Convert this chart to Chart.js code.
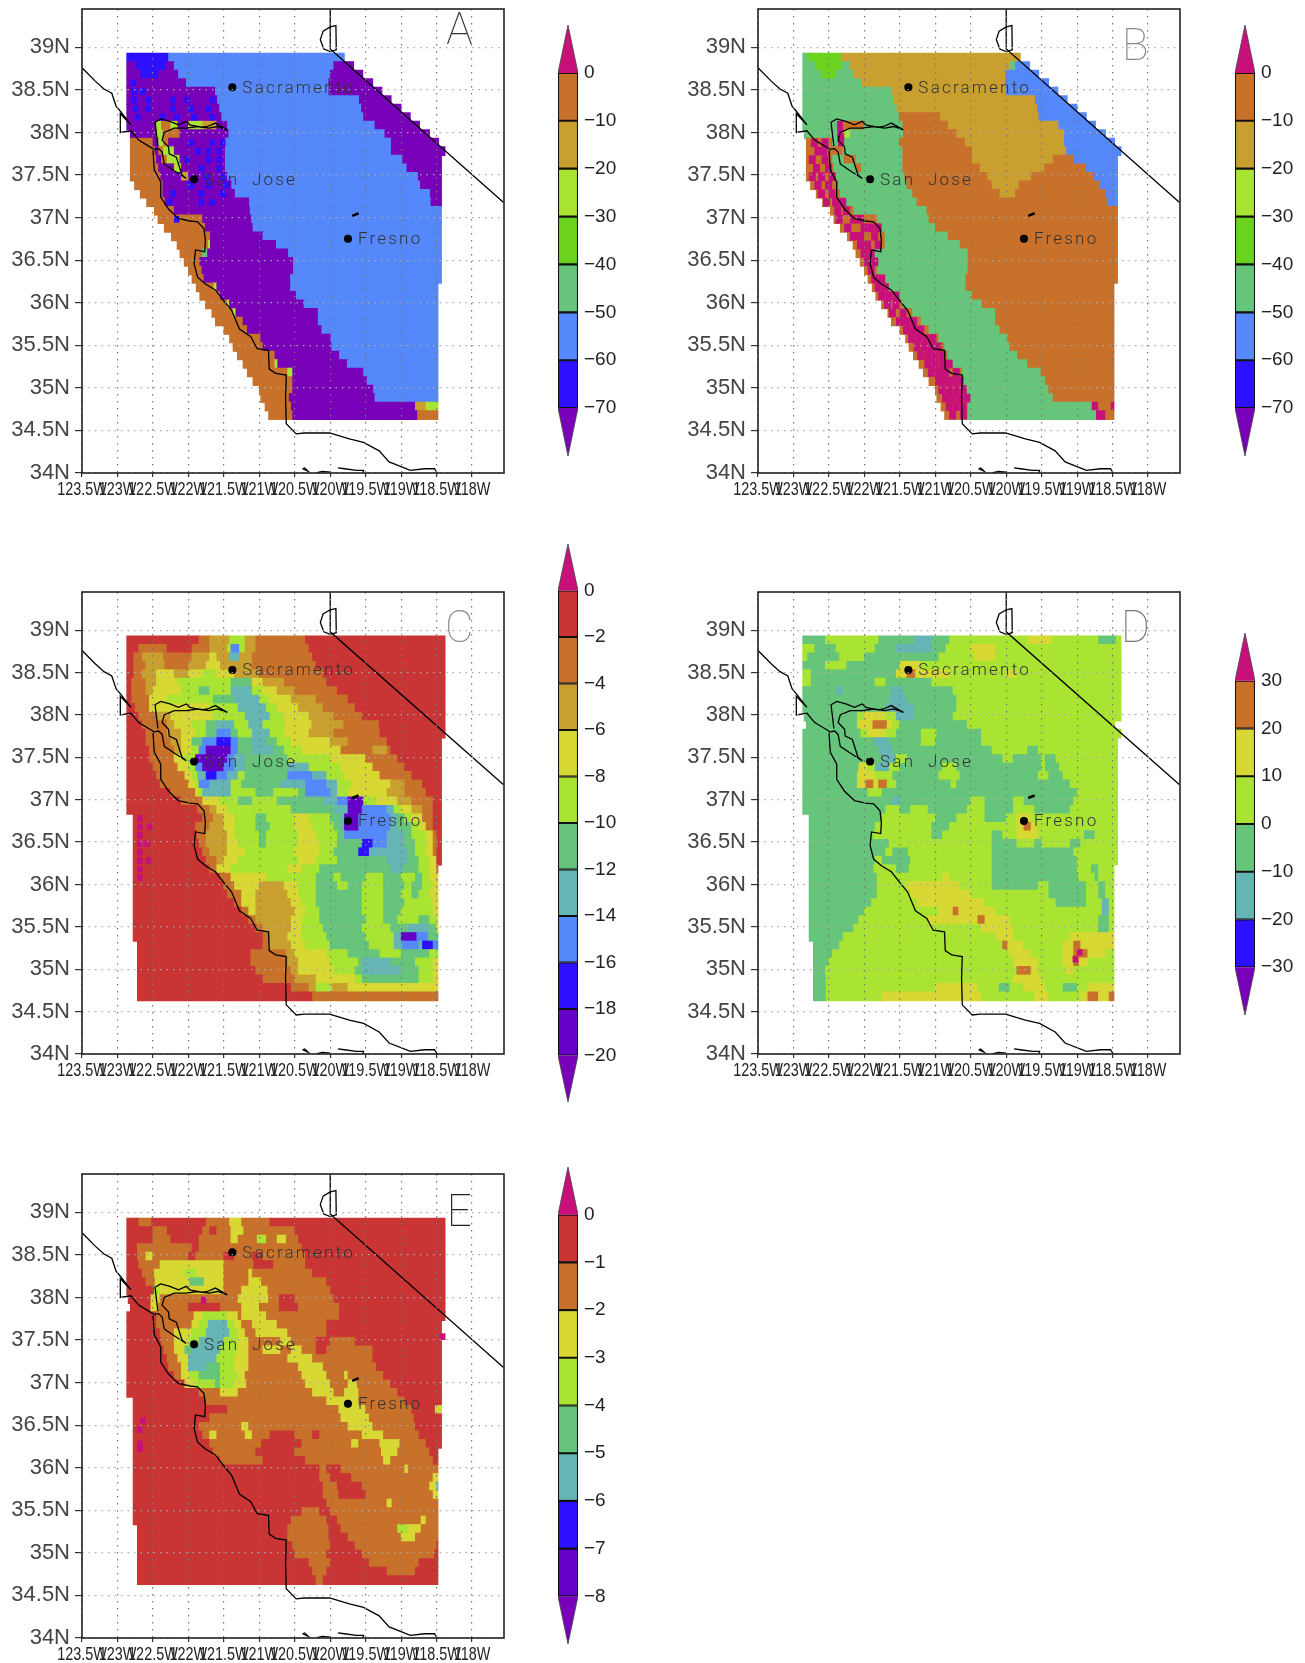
<!DOCTYPE html>
<html>
<head>
<meta charset="utf-8">
<title>Five panel map</title>
<script src="https://cdn.jsdelivr.net/npm/chart.js@4/dist/chart.umd.min.js"></script>
<style>
  html, body { margin: 0; background: #fff; }
  #page { position: relative; width: 1305px; height: 1663px; overflow: hidden; }
  canvas { position: absolute; }
</style>
</head>
<body>
<div id="page"></div>
<script>
// Axis ticks
const lonTicks = [-123.5, -123, -122.5, -122, -121.5, -121, -120.5, -120, -119.5, -119, -118.5, -118];
const lonLabels = ["123.5W", "123W", "122.5W", "122W", "121.5W", "121W", "120.5W", "120W", "119.5W", "119W", "118.5W", "118W"];
const latTicks = [34, 34.5, 35, 35.5, 36, 36.5, 37, 37.5, 38, 38.5, 39];
const latLabels = ["34N", "34.5N", "35N", "35.5N", "36N", "36.5N", "37N", "37.5N", "38N", "38.5N", "39N"];

// Colour bar levels, top to bottom
const levelsAB = [0, -10, -20, -30, -40, -50, -60, -70];
const levelsC = [0, -2, -4, -6, -8, -10, -12, -14, -16, -18, -20];
const levelsD = [30, 20, 10, 0, -10, -20, -30];
const levelsE = [0, -1, -2, -3, -4, -5, -6, -7, -8];

const paletteAB = ["#C8107A", "#C8712B", "#C9A02F", "#AAE433", "#6BD31D", "#66C57B", "#5588FB", "#2C10FF", "#7800B8"];
const paletteC = ["#C8107A", "#C93434", "#C8712B", "#C9A02F", "#D8D835", "#AAE433", "#66C57B", "#66B5B5", "#5588FB", "#2C10FF", "#6400C8", "#7800B8"];
const paletteD = ["#C8107A", "#C8712B", "#D8D835", "#AAE433", "#66C57B", "#66B5B5", "#2C10FF", "#7800B8"];
const paletteE = ["#C8107A", "#C93434", "#C8712B", "#D8D835", "#AAE433", "#66C57B", "#66B5B5", "#2C10FF", "#6400C8", "#7800B8"];

// Latitude of each row of cells
const rowLats = [38.88, 38.78, 38.68, 38.58, 38.48, 38.38, 38.28, 38.18, 38.08, 37.98, 37.88, 37.78, 37.68, 37.58, 37.48, 37.38, 37.28, 37.18, 37.08, 36.98, 36.88, 36.78, 36.68, 36.58, 36.48, 36.38, 36.28, 36.18, 36.08, 35.98, 35.88, 35.78, 35.68, 35.58, 35.48, 35.38, 35.28, 35.18, 35.08, 34.98, 34.88, 34.78, 34.68];

// One row per latitude: west edge (deg W), value, next edge, value, ... east edge
const cellsA = [
  [122.87,-65,122.28,-55,119.8],
  [122.87,-75,122.73,-65,122.31,-75,122.2,-55,119.95,-75,119.67],
  [122.87,-75,122.67,-65,122.42,-75,122.14,-55,120.0,-75,119.54],
  [122.87,-75,122.03,-55,120.02,-75,119.4],
  [122.87,-75,121.62,-55,120.02,-75,119.27],
  [122.87,-75,121.59,-55,119.59,-75,119.14],
  [122.87,-75,121.56,-55,119.56,-75,119.0],
  [122.87,-75,121.53,-55,119.53,-75,118.87],
  [122.87,-75,122.45,-25,122.38,-5,122.25,-25,122.15,-75,122.0,-25,121.8,-15,121.6,-75,121.45,-55,119.37,-75,118.74],
  [122.82,-75,122.45,-25,122.36,-5,122.12,-75,121.43,-55,119.23,-75,118.6],
  [122.82,-5,122.5,-75,122.42,-25,122.35,-5,122.28,-75,121.48,-55,119.14,-75,118.47],
  [122.82,-5,122.47,-75,122.42,-5,122.35,-25,122.2,-75,121.48,-55,119.14,-75,118.38],
  [122.82,-5,122.45,-75,122.38,-5,122.3,-25,122.12,-75,121.48,-55,118.98,-75,118.43],
  [122.82,-5,122.42,-75,122.2,-25,122.1,-75,121.48,-55,118.92,-75,118.43],
  [122.82,-5,122.39,-75,122.1,-15,122.0,-75,121.45,-55,118.76,-75,118.43],
  [122.76,-5,122.36,-75,121.39,-55,118.73,-75,118.43],
  [122.68,-5,122.36,-75,121.34,-55,118.59,-75,118.43],
  [122.59,-5,122.33,-75,121.14,-55,118.58,-75,118.43],
  [122.48,-5,122.2,-75,121.13,-55,118.43],
  [122.43,-5,121.8,-75,121.11,-55,118.43],
  [122.34,-5,121.76,-75,121.09,-55,118.43],
  [122.24,-5,121.69,-75,120.95,-55,118.43],
  [122.16,-5,121.72,-25,121.69,-75,120.76,-55,118.43],
  [122.12,-5,121.8,-45,121.73,-75,120.59,-55,118.43],
  [122.06,-5,121.84,-75,120.52,-55,118.43],
  [122.0,-5,121.81,-75,120.52,-55,118.43],
  [121.95,-5,121.78,-75,120.56,-55,118.43],
  [121.89,-5,121.64,-25,121.6,-75,120.56,-55,118.48],
  [121.84,-5,121.55,-75,120.48,-55,118.48],
  [121.76,-5,121.45,-25,121.42,-75,120.37,-55,118.48],
  [121.67,-5,121.37,-25,121.33,-75,120.17,-55,118.48],
  [121.62,-5,121.23,-75,120.17,-55,118.48],
  [121.5,-5,121.17,-75,120.12,-55,118.48],
  [121.42,-5,120.98,-75,119.99,-55,118.48],
  [121.37,-5,120.95,-75,119.98,-55,118.48],
  [121.31,-5,120.78,-75,119.87,-55,118.48],
  [121.23,-5,120.78,-25,120.74,-75,119.76,-55,118.48],
  [121.17,-5,120.6,-25,120.53,-75,119.53,-55,118.48],
  [121.09,-5,120.53,-75,119.48,-55,118.48],
  [121.0,-5,120.53,-75,119.39,-55,118.48],
  [120.98,-5,120.58,-75,119.37,-55,118.48],
  [120.92,-5,120.55,-75,118.8,-15,118.65,-25,118.48],
  [120.87,-5,120.53,-75,118.77,-5,118.48]
];

const cellsB = [
  [122.87,-45,122.79,-35,122.32,-15,119.8],
  [122.87,-45,122.68,-35,122.32,-45,122.2,-15,119.95,-45,119.87,-55,119.67],
  [122.87,-45,122.6,-35,122.4,-45,122.15,-15,120.01,-55,119.54],
  [122.87,-45,122.04,-15,120.01,-55,119.4],
  [122.87,-45,121.62,-15,120.01,-55,119.27],
  [122.87,-45,121.59,-15,119.59,-55,119.14],
  [122.87,-45,121.54,-15,119.56,-55,119.0],
  [122.87,-45,121.51,-5,120.93,-15,119.54,-55,118.87],
  [122.87,-45,122.38,5,122.3,-5,122.0,-45,121.46,-5,120.82,-15,119.26,-55,118.74],
  [122.85,-45,122.38,5,122.28,-25,122.2,-45,121.45,-5,120.7,-15,119.18,-55,118.6],
  [122.82,-5,122.45,-45,122.37,5,122.28,-45,121.51,-5,120.58,-15,119.18,-55,118.47],
  [122.82,-5,122.45,-5,122.3,-45,121.46,-5,120.48,-15,119.15,-55,118.38],
  [122.82,-5,122.45,-45,122.29,-5,122.12,-45,121.46,-5,120.48,-15,119.34,-5,119.04,-55,118.43],
  [122.82,-5,122.43,-45,122.12,-5,122.04,-45,121.46,-5,120.37,-15,119.46,-5,118.87,-55,118.43],
  [122.82,-5,122.4,-45,121.43,-5,120.26,-15,119.65,-5,118.76,-55,118.43],
  [122.76,-5,122.37,-45,121.4,-5,120.2,-15,119.82,-5,118.68,-55,118.43],
  [122.68,-5,122.34,-45,121.32,-5,120.09,-15,119.87,-5,118.59,-55,118.43],
  [122.59,-5,122.29,-45,121.26,-5,118.57,-55,118.43],
  [122.48,-5,122.15,-45,121.12,-5,118.43],
  [122.43,-5,121.82,-45,121.09,-5,118.43],
  [122.34,-5,121.79,-45,121.0,-5,118.43],
  [122.24,-5,121.71,-45,120.82,-5,118.43],
  [122.16,-5,121.71,-45,120.65,-5,118.43],
  [122.12,-5,121.87,-45,120.54,-5,118.43],
  [122.06,-5,121.84,-45,120.54,-5,118.43],
  [122.0,-5,121.82,-45,120.54,-5,118.43],
  [121.95,-5,121.76,-45,120.57,-5,118.43],
  [121.89,-5,121.68,-45,120.57,-5,118.48],
  [121.84,-5,121.54,-45,120.48,-5,118.48],
  [121.76,-5,121.46,-45,120.34,-5,118.48],
  [121.67,-5,121.32,-45,120.15,-5,118.48],
  [121.62,-5,121.2,-45,120.15,-5,118.48],
  [121.5,-5,121.09,-45,120.09,-5,118.48],
  [121.42,-5,120.95,-45,119.98,-5,118.48],
  [121.37,-5,120.87,-45,119.95,-5,118.48],
  [121.31,-5,120.82,-45,119.84,-5,118.48],
  [121.23,-5,120.82,-45,119.7,-5,118.48],
  [121.17,-5,120.62,-45,119.51,-5,118.48],
  [121.09,-5,120.59,-45,119.45,-5,118.48],
  [121.0,-5,120.59,-45,119.4,-5,118.48],
  [120.98,-5,120.59,-45,119.34,-5,118.48],
  [120.92,-5,120.54,-45,118.79,5,118.7,-5,118.52,5,118.48],
  [120.87,-5,120.54,-45,118.73,5,118.6,-5,118.48]
];

const cellsC = [
  [122.87,-1,121.85,-3,121.7,-5,121.42,-9,121.2,-5,121.05,-3,120.35,-1,118.38],
  [122.87,-1,122.7,-3,122.3,-1,121.95,-3,121.7,-5,121.45,-9,121.4,-15,121.28,-9,121.2,-5,121.05,-3,120.3,-1,118.38],
  [122.87,-1,122.77,-3,122.65,-5,122.35,-3,121.95,-5,121.7,-7,121.6,-5,121.42,-13,121.28,-5,121.1,-3,120.25,-1,118.38],
  [122.87,-1,122.77,-3,122.6,-5,122.33,-3,122.0,-5,121.75,-7,121.55,-5,121.1,-3,120.2,-1,118.38],
  [122.87,-1,122.77,-3,122.65,-5,122.45,-7,122.2,-5,122.0,-7,121.8,-9,121.6,-7,121.35,-5,121.0,-3,120.1,-1,118.38],
  [122.87,-1,122.8,-3,122.6,-5,122.45,-7,122.15,-9,121.4,-11,121.1,-7,120.95,-5,120.65,-3,120.05,-1,118.38],
  [122.87,-1,122.8,-3,122.6,-5,122.5,-7,122.1,-9,121.85,-11,121.7,-9,121.4,-13,121.1,-9,120.95,-7,120.75,-5,120.5,-3,119.9,-1,118.38],
  [122.87,-1,122.8,-3,122.55,-7,122.3,-9,121.65,-11,121.35,-13,121.0,-9,120.85,-7,120.55,-5,120.2,-3,119.75,-1,118.38],
  [122.87,-1,122.75,-3,122.55,-7,121.7,-9,121.3,-13,120.9,-9,120.75,-7,120.45,-5,120.1,-3,119.65,-1,118.38],
  [122.87,-1,122.7,-3,122.45,-5,122.25,-7,121.65,-9,121.2,-13,120.85,-9,120.65,-7,120.3,-5,119.95,-3,119.55,-1,118.38],
  [122.87,-1,122.65,-3,122.3,-5,122.2,-7,121.95,-9,121.75,-11,121.6,-13,121.35,-9,121.15,-13,120.95,-9,120.64,-7,120.26,-5,119.81,-3,119.31,-1,118.38],
  [122.87,-1,122.6,-3,122.3,-5,122.1,-7,121.9,-9,121.75,-11,121.6,-15,121.4,-11,121.3,-9,121.1,-13,120.85,-9,120.65,-7,120.3,-5,119.95,-3,119.3,-1,118.38],
  [122.87,-1,122.6,-3,122.25,-5,122.1,-7,121.95,-11,121.8,-15,121.6,-17,121.4,-15,121.3,-11,121.1,-13,120.9,-11,120.75,-9,120.55,-7,120.0,-5,119.75,-3,119.2,-1,118.43],
  [122.87,-1,122.55,-3,122.2,-5,122.1,-7,121.95,-9,121.85,-15,121.75,-19,121.4,-15,121.3,-11,121.1,-13,120.8,-11,120.65,-9,120.4,-7,119.85,-3,119.4,-5,119.2,-3,119.15,-1,118.43],
  [122.87,-1,122.55,-3,122.2,-7,122.05,-9,121.9,-19,121.45,-15,121.35,-13,121.2,-11,120.6,-9,120.0,-7,119.5,-3,119.05,-1,118.43],
  [122.87,-1,122.5,-3,122.15,-7,122.0,-9,121.9,-15,121.8,-19,121.5,-15,121.35,-13,121.2,-11,120.6,-13,120.3,-9,119.85,-7,119.4,-3,118.95,-1,118.43],
  [122.87,-1,122.45,-3,122.05,-7,121.95,-9,121.87,-13,121.75,-17,121.6,-15,121.45,-13,121.3,-9,121.2,-11,120.6,-15,120.25,-13,120.05,-9,119.8,-7,119.3,-3,118.85,-1,118.43],
  [122.87,-1,122.4,-3,122.0,-7,121.9,-9,121.85,-15,121.7,-13,121.4,-9,121.25,-11,120.7,-13,120.35,-15,120.05,-13,119.9,-9,119.7,-7,119.15,-5,118.95,-3,118.7,-1,118.43],
  [122.87,-1,122.25,-3,121.9,-7,121.85,-9,121.8,-13,121.4,-9,121.05,-11,120.8,-9,120.45,-11,120.35,-15,120.0,-13,119.9,-9,119.75,-7,119.2,-5,118.95,-3,118.65,-1,118.43],
  [122.87,-1,122.1,-3,121.8,-7,121.55,-9,121.3,-11,121.1,-9,120.75,-11,120.1,-13,119.9,-15,119.75,-19,119.53,-9,119.35,-7,119.05,-5,118.85,-3,118.55,-1,118.43],
  [122.87,-1,121.87,-3,121.7,-5,121.6,-7,121.45,-9,120.55,-11,119.95,-13,119.75,-19,119.55,-15,119.2,-13,119.1,-9,119.0,-7,118.85,-5,118.7,-3,118.55,-1,118.43],
  [122.78,-1,121.8,-3,121.65,-5,121.5,-7,121.35,-9,121.05,-11,120.9,-9,120.5,-7,120.3,-9,120.0,-11,119.85,-13,119.8,-19,119.6,-15,119.15,-13,119.05,-11,118.95,-9,118.85,-7,118.7,-3,118.55,-1,118.43],
  [122.78,-1,121.9,-3,121.7,-5,121.5,-7,121.35,-9,121.05,-11,120.85,-9,120.5,-7,120.25,-9,119.95,-11,119.85,-13,119.8,-19,119.6,-15,119.15,-13,119.05,-11,118.85,-9,118.75,-7,118.65,-3,118.55,-1,118.43],
  [122.78,-1,121.88,-3,121.75,-5,121.45,-7,121.35,-9,121.0,-11,120.9,-9,120.45,-7,120.2,-9,119.9,-11,119.8,-15,119.2,-13,118.95,-11,118.85,-9,118.65,-7,118.55,-3,118.5,-1,118.43],
  [122.78,-1,121.85,-3,121.75,-5,121.45,-7,121.3,-9,121.0,-11,120.9,-9,120.45,-7,120.15,-9,119.9,-11,119.55,-17,119.4,-15,119.2,-13,118.95,-11,118.8,-9,118.65,-7,118.55,-3,118.48,-1,118.43],
  [122.78,-1,121.8,-3,121.7,-5,121.45,-7,121.2,-9,120.5,-7,120.15,-9,119.95,-11,119.6,-17,119.45,-13,118.9,-11,118.8,-9,118.65,-7,118.55,-3,118.5,-1,118.43],
  [122.78,-1,121.75,-3,121.6,-5,121.5,-7,121.3,-9,120.45,-7,120.2,-9,119.9,-11,119.2,-13,118.9,-11,118.75,-9,118.6,-7,118.5,-1,118.43],
  [122.78,-1,121.7,-3,121.6,-7,121.4,-9,120.6,-7,120.4,-9,120.15,-11,119.15,-13,118.98,-11,118.75,-9,118.6,-7,118.5,-3,118.48],
  [122.78,-1,121.55,-3,121.4,-7,120.9,-9,120.2,-11,119.95,-9,119.85,-11,119.5,-9,119.25,-11,119.0,-9,118.8,-11,118.7,-9,118.6,-7,118.48],
  [122.78,-1,121.5,-3,121.35,-7,121.0,-5,120.65,-7,120.45,-9,120.2,-11,119.9,-9,119.75,-11,119.55,-9,119.25,-11,118.95,-9,118.85,-11,118.7,-9,118.55,-7,118.48],
  [122.78,-1,121.45,-3,121.25,-7,121.05,-5,120.6,-7,120.45,-9,120.2,-11,119.55,-9,119.25,-11,119.0,-9,118.85,-11,118.75,-9,118.6,-7,118.48],
  [122.78,-1,121.35,-3,121.25,-7,121.05,-5,120.55,-7,120.4,-9,120.2,-11,119.55,-9,119.25,-11,118.95,-9,118.55,-7,118.48],
  [122.78,-1,121.25,-3,121.15,-7,121.05,-5,120.5,-7,120.35,-9,120.15,-11,119.55,-9,119.25,-11,119.0,-9,118.55,-7,118.48],
  [122.78,-1,121.15,-3,121.05,-5,120.55,-7,120.4,-9,120.15,-11,119.5,-9,119.25,-11,119.05,-9,118.75,-11,118.6,-9,118.5,-7,118.48],
  [122.78,-1,121.05,-3,120.95,-5,120.55,-7,120.4,-9,120.1,-11,119.55,-9,119.15,-11,118.9,-13,118.6,-11,118.5,-7,118.48],
  [122.78,-1,120.95,-3,120.85,-5,120.6,-7,120.4,-9,120.05,-11,119.5,-9,119.1,-13,119.0,-19,118.78,-15,118.62,-11,118.48],
  [122.72,-1,120.95,-3,120.85,-5,120.55,-7,120.35,-9,120.0,-11,119.45,-9,119.1,-13,118.98,-15,118.75,-13,118.7,-17,118.55,-15,118.48],
  [122.72,-1,121.12,-3,120.62,-5,120.5,-7,120.05,-9,119.75,-11,119.3,-9,119.0,-11,118.6,-9,118.48],
  [122.72,-1,121.12,-3,120.6,-5,120.45,-7,120.0,-9,119.6,-11,119.55,-13,119.15,-11,118.8,-9,118.55,-7,118.48],
  [122.72,-1,121.05,-3,120.55,-5,120.45,-7,119.95,-9,119.65,-11,119.55,-13,119.0,-11,118.75,-9,118.55,-7,118.48],
  [122.72,-1,120.95,-3,120.5,-5,120.2,-7,119.65,-9,119.55,-11,118.75,-9,118.55,-7,118.48],
  [122.72,-1,120.55,-3,120.3,-5,120.2,-9,119.97,-5,119.75,-7,118.48],
  [122.72,-1,120.25,-3,118.48]
];

const cellsD = [
  [122.87,-5,122.55,5,121.8,-5,121.3,-15,121.05,-5,120.8,5,119.7,15,119.35,5,118.7,-5,118.45,5,118.38],
  [122.87,5,122.7,-5,122.4,5,121.85,-5,121.55,-15,121.05,-5,120.85,5,120.5,15,120.15,5,118.38],
  [122.87,5,122.8,-5,122.35,5,122.0,-5,120.95,5,120.45,15,120.15,5,118.38],
  [122.87,-5,122.55,5,122.25,-5,121.5,15,121.2,5,118.38],
  [122.87,5,122.75,-5,121.55,15,121.4,25,121.28,15,120.8,5,120.0,15,119.85,5,118.38],
  [122.87,5,122.75,-5,121.85,5,121.7,-5,121.05,5,118.38],
  [122.87,-5,122.4,-15,122.3,-5,121.62,-15,121.45,-5,120.75,5,118.38],
  [122.87,-5,121.65,-15,121.4,-5,120.7,5,118.38],
  [122.87,-5,121.7,-15,121.3,-5,120.7,5,118.38],
  [122.85,-5,122.1,5,122.0,15,121.7,5,121.55,-15,121.3,-5,120.75,5,118.38],
  [122.82,-5,122.1,15,121.88,25,121.68,15,121.6,5,121.5,-5,120.55,5,118.47],
  [122.87,-5,122.05,5,121.95,15,121.7,5,121.55,-5,121.2,5,120.98,-5,120.35,5,118.38],
  [122.87,-5,121.87,-15,121.65,-5,121.2,5,121.0,-5,120.35,5,118.43],
  [122.87,-5,121.8,-15,121.6,-5,120.2,5,119.7,-5,119.55,5,118.43],
  [122.87,-5,121.75,-15,121.55,5,121.4,-5,120.05,5,119.9,-5,119.5,5,119.45,-5,119.3,5,118.43],
  [122.87,-5,122.08,15,121.95,5,121.85,-15,121.65,5,121.5,-5,120.9,5,120.7,-5,119.5,5,119.45,-5,119.25,5,118.43],
  [122.87,-5,122.1,15,121.85,5,121.6,-5,120.95,5,120.65,-5,119.55,5,119.4,-5,119.2,5,118.43],
  [122.87,-5,122.1,15,121.98,25,121.87,15,121.8,25,121.68,5,121.55,-5,120.78,5,120.7,-5,119.1,5,118.43],
  [122.87,-5,121.95,5,121.75,-5,119.0,5,118.43],
  [122.87,-5,121.6,-15,121.5,-5,120.5,5,120.3,-5,119.9,5,119.75,-5,119.05,5,118.43],
  [122.87,-5,121.7,5,121.5,-5,121.35,5,121.1,-5,120.55,5,120.3,-5,119.9,5,119.6,-5,119.1,5,118.43],
  [122.78,-5,121.75,5,121.0,-5,120.7,5,120.3,-5,120.0,5,119.85,15,119.65,5,118.43],
  [122.78,-5,121.85,5,121.05,-5,120.8,5,119.85,15,119.75,25,119.65,15,119.55,5,118.43],
  [122.78,-5,121.88,5,121.05,-5,120.9,5,120.2,-5,120.05,5,119.85,15,119.55,5,118.9,-5,118.75,5,118.43],
  [122.78,-5,121.65,5,120.2,-5,119.85,5,119.6,-5,119.5,5,119.1,-5,118.95,5,118.43],
  [122.78,-5,121.7,5,121.6,-5,121.38,5,120.2,-5,119.05,5,118.43],
  [122.78,-5,121.85,5,121.75,-5,121.35,5,120.2,-5,119.0,5,118.43],
  [122.78,-5,121.87,5,121.55,-5,121.37,5,120.2,-5,119.0,5,118.8,-5,118.7,5,118.48],
  [122.78,-5,121.82,5,120.9,15,120.8,5,120.2,-5,118.98,5,118.75,-5,118.7,5,118.48],
  [122.78,-5,121.82,5,121.4,15,120.65,5,120.2,-5,119.55,5,119.4,-5,118.87,5,118.7,-5,118.6,5,118.48],
  [122.78,-5,121.82,5,121.35,15,120.5,5,119.4,-5,118.87,5,118.7,-5,118.6,5,118.48],
  [122.78,-5,121.9,5,121.25,15,120.3,5,119.3,-5,118.87,5,118.65,-15,118.55,5,118.48],
  [122.78,-5,122.0,5,120.95,15,120.75,25,120.67,15,120.15,5,118.65,-15,118.55,5,118.48],
  [122.78,-5,122.08,5,121.1,15,120.4,25,120.3,15,119.95,5,118.7,-5,118.55,5,118.48],
  [122.78,-5,122.15,5,120.35,15,119.9,5,118.7,-5,118.55,5,118.48],
  [122.78,-5,122.3,5,120.15,15,119.9,5,119.1,15,118.48],
  [122.72,-5,122.35,5,120.05,25,119.98,15,119.75,5,119.2,15,119.05,25,118.95,15,118.48],
  [122.72,-5,122.45,5,119.95,15,119.65,5,119.2,15,119.05,25,118.85,15,118.6,5,118.48],
  [122.72,-5,122.5,5,119.9,15,119.55,5,119.2,15,119.05,25,118.97,15,118.85,5,118.48],
  [122.72,-5,122.55,5,119.85,25,119.65,15,119.55,5,119.15,15,119.05,5,118.48],
  [122.72,-5,122.54,5,119.9,15,119.5,5,118.48],
  [122.72,-5,122.54,5,121.0,15,120.4,5,120.1,-5,119.95,5,119.75,15,119.45,5,119.2,-5,119.0,5,118.85,15,118.48],
  [122.72,-5,122.54,5,121.75,15,120.35,5,119.6,15,119.4,5,118.95,15,118.85,25,118.7,15,118.55,25,118.48]
];

const cellsE = [
  [122.87,-0.5,122.7,-1.5,122.52,-0.5,121.75,-1.5,121.42,-2.5,121.25,-1.5,120.85,-0.5,118.38],
  [122.87,-0.5,122.5,-1.5,122.3,-0.5,121.8,-1.5,121.7,-0.5,121.6,-1.5,121.4,-2.5,121.22,-1.5,120.5,-0.5,118.38],
  [122.87,-0.5,122.5,-1.5,122.25,-0.5,121.85,-1.5,121.4,-2.5,121.3,-1.5,121.03,-3.5,120.9,-1.5,120.75,-2.5,120.62,-1.5,120.45,-0.5,118.38],
  [122.87,-0.5,122.72,-1.5,121.95,-0.5,121.85,-1.5,120.4,-0.5,118.38],
  [122.87,-0.5,122.72,-1.5,122.6,-2.5,122.5,-1.5,122.0,-0.5,121.9,-1.5,121.5,-0.5,121.35,-1.5,121.1,-0.5,120.95,-1.5,120.35,-0.5,118.38],
  [122.87,-0.5,122.7,-1.5,122.4,-2.5,121.5,-1.5,121.08,-0.5,120.8,-1.5,120.35,-0.5,118.38],
  [122.87,-0.5,122.65,-1.5,122.48,-2.5,122.05,-3.5,121.88,-2.5,121.5,-1.5,121.15,-2.5,121.1,-1.5,120.25,-0.5,118.38],
  [122.87,-0.5,122.6,-1.5,122.47,-2.5,121.98,-4.5,121.78,-2.5,121.5,-1.5,121.15,-2.5,120.97,-1.5,120.05,-0.5,118.38],
  [122.87,-0.5,122.48,-3.5,122.4,-2.5,121.5,-1.5,121.25,-2.5,120.88,-1.5,120.0,-0.5,118.38],
  [122.85,-0.5,122.53,-2.5,122.4,-1.5,121.3,-2.5,120.87,-1.5,120.72,-0.5,120.5,-1.5,119.95,-0.5,118.38],
  [122.82,-0.5,122.53,-2.5,122.42,-1.5,122.0,-0.5,121.55,-1.5,121.25,-2.5,121.0,-1.5,120.72,-0.5,120.45,-1.5,119.87,-0.5,118.38],
  [122.87,-0.5,122.45,-1.5,121.92,-2.5,121.8,-3.5,121.45,-2.5,121.3,-1.5,121.25,-2.5,120.9,-1.5,119.87,-0.5,118.38],
  [122.87,-0.5,122.45,-1.5,121.95,-2.5,121.85,-3.5,121.72,-5.5,121.45,-3.5,121.35,-2.5,121.25,-1.5,121.1,-2.5,120.75,-1.5,120.05,-0.5,118.43],
  [122.87,-0.5,122.4,-1.5,122.2,-2.5,121.95,-3.5,121.75,-5.5,121.42,-3.5,121.3,-2.5,121.2,-1.5,121.05,-2.5,120.6,-1.5,120.05,-0.5,118.43],
  [122.87,-0.5,122.38,-1.5,122.2,-2.5,122.0,-3.5,121.85,-5.5,121.5,-3.5,121.3,-2.5,121.15,-1.5,120.7,-2.5,120.55,-1.5,120.2,-0.5,120.0,-1.5,119.65,-0.5,118.43],
  [122.87,-0.5,122.35,-1.5,122.2,-2.5,122.05,-4.5,121.95,-5.5,121.55,-3.5,121.3,-2.5,121.15,-1.5,120.95,-2.5,120.7,-1.5,120.55,-2.5,120.4,-1.5,120.2,-0.5,120.05,-1.5,119.4,-0.5,118.43],
  [122.87,-0.5,122.3,-1.5,122.15,-2.5,122.0,-5.5,121.6,-3.5,121.35,-2.5,121.15,-1.5,120.6,-2.5,120.25,-1.5,119.4,-0.5,118.43],
  [122.87,-0.5,122.28,-1.5,122.1,-2.5,122.0,-5.5,121.75,-4.5,121.55,-3.5,121.35,-2.5,121.15,-1.5,120.45,-2.5,120.1,-1.5,119.35,-0.5,118.43],
  [122.87,-0.5,122.2,-1.5,122.1,-2.5,121.98,-3.5,121.85,-4.5,121.55,-3.5,121.3,-2.5,121.2,-1.5,120.4,-2.5,120.05,-1.5,119.8,-2.5,119.75,-1.5,119.25,-0.5,118.43],
  [122.87,-0.5,122.05,-2.5,121.9,-3.5,121.62,-4.5,121.55,-3.5,121.35,-2.5,121.18,-1.5,120.35,-2.5,120.0,-1.5,119.75,-2.5,119.62,-1.5,119.15,-0.5,118.43],
  [122.87,-0.5,121.85,-1.5,121.55,-2.5,121.3,-1.5,120.25,-2.5,119.95,-1.5,119.8,-2.5,119.6,-1.5,119.05,-0.5,118.43],
  [122.78,-0.5,121.75,-1.5,120.05,-2.5,119.6,-1.5,118.95,-0.5,118.43],
  [122.78,-0.5,121.45,-1.5,119.88,-2.5,119.5,-1.5,118.85,-0.5,118.52,-2.5,118.43],
  [122.78,-0.5,121.7,-1.5,119.85,-2.5,119.45,-1.5,118.82,-0.5,118.43],
  [122.78,-0.5,121.85,-1.5,121.25,-2.5,121.15,-1.5,119.75,-2.5,119.4,-1.5,118.8,-0.5,118.43],
  [122.78,-0.5,121.8,-1.5,121.7,-2.5,121.6,-1.5,121.2,-2.5,121.1,-1.5,120.85,-0.5,120.5,-1.5,120.25,-0.5,120.15,-1.5,119.55,-2.5,119.25,-1.5,118.75,-0.5,118.43],
  [122.78,-0.5,121.7,-1.5,120.97,-0.5,120.4,-1.5,119.7,-2.5,119.6,-1.5,119.3,-2.5,119.02,-1.5,118.65,-0.5,118.43],
  [122.78,-0.5,121.65,-1.5,121.05,-0.5,120.5,-1.5,119.28,-2.5,119.05,-1.5,118.6,-0.5,118.48],
  [122.78,-0.5,121.55,-1.5,120.95,-0.5,120.35,-1.5,119.25,-2.5,119.15,-1.5,118.55,-0.5,118.48],
  [122.78,-0.5,120.15,-1.5,120.05,-0.5,119.85,-1.5,118.95,-2.5,118.9,-1.5,118.48],
  [122.78,-0.5,120.15,-1.5,120.0,-0.5,119.7,-1.5,118.55,-2.5,118.48],
  [122.78,-0.5,120.1,-1.5,119.9,-0.5,119.55,-1.5,118.6,-2.5,118.5,-5.5,118.48],
  [122.78,-0.5,120.1,-1.5,119.88,-0.5,119.5,-1.5,118.55,-2.5,118.48],
  [122.78,-0.5,120.05,-1.5,119.2,-2.5,119.13,-1.5,118.48],
  [122.78,-0.5,120.4,-1.5,120.15,-0.5,120.0,-1.5,118.48],
  [122.78,-0.5,120.55,-1.5,120.05,-0.5,119.9,-1.5,118.72,-2.5,118.65,-1.5,118.48],
  [122.72,-0.5,120.6,-1.5,120.02,-0.5,119.85,-1.5,119.05,-3.5,118.9,-2.5,118.72,-1.5,118.48],
  [122.72,-0.5,120.6,-1.5,120.02,-0.5,119.75,-1.5,119.0,-2.5,118.8,-1.5,118.48],
  [122.72,-0.5,120.53,-1.5,120.0,-0.5,119.65,-1.5,118.5,-0.5,118.48],
  [122.72,-0.5,120.5,-1.5,120.05,-0.5,119.55,-1.5,118.53,-0.5,118.48],
  [122.72,-0.5,120.3,-1.5,120.0,-0.5,119.45,-1.5,118.75,-0.5,118.48],
  [122.72,-0.5,120.25,-1.5,120.05,-0.5,119.2,-1.5,118.8,-0.5,118.48],
  [122.72,-0.5,120.2,-1.5,120.1,-0.5,118.48]
];

// Scattered single cells: latitude, then longitudes (deg W)
const specksA = [
  [38.58,122.81], [38.48,122.8,122.68], [38.38,122.8,122.6,122.25,122.05,121.7], [38.28,122.78,122.6,122.25,122.0,121.75],
  [38.18,122.75,122.4,122.2,121.95,121.7], [37.88,122.0,121.7,121.55], [37.78,121.9,121.75,121.6], [37.68,122.05,121.75,121.6],
  [37.58,121.85,121.6], [37.48,121.78,121.55], [37.38,122.0,121.75,121.5], [37.28,122.25,121.85,121.55], [37.18,122.3,121.85,121.7], [36.98,122.2]
];
const specksB = [
  [37.88,122.75,122.6], [37.78,122.7,122.62], [37.68,122.78,122.6], [37.58,122.72,122.55], [37.48,122.78,122.65,122.5], [37.38,122.7,122.55],
  [37.28,122.65,122.5], [37.18,122.58,122.45,122.35], [37.08,122.42,122.3], [36.98,122.4,122.2,122.1], [36.88,122.28,122.05,121.95,121.85],
  [36.78,122.2,122.1,121.9], [36.68,122.1,122.0,121.85], [36.58,122.05,121.95], [36.48,122.0,121.9], [36.38,121.95], [36.28,121.9,121.8],
  [36.18,121.85,121.75], [36.08,121.8,121.7,121.6], [35.98,121.72,121.6], [35.88,121.65,121.5], [35.78,121.55,121.45,121.35],
  [35.68,121.45,121.35,121.25], [35.58,121.38,121.28,121.18,121.08], [35.48,121.3,121.2,121.1,121.0], [35.38,121.25,121.15,121.05,120.95],
  [35.28,121.15,121.05,120.95,120.85], [35.18,121.1,121.0,120.9,120.75], [35.08,121.0,120.9,120.8,120.7], [34.98,120.95,120.85,120.75,120.65],
  [34.88,120.9,120.8,120.7,120.6], [34.78,120.85,120.75,120.65], [34.68,120.8,120.65]
];
const specksC = [[36.78,122.72], [36.68,122.72,122.58], [36.58,122.72], [36.48,122.72,122.62], [36.38,122.72], [36.28,122.72,122.6], [36.18,122.72], [36.08,122.72]];
const specksD = [[35.2,119.0], [35.12,119.06]];
const specksE = [[36.55,122.68], [36.45,122.72], [36.28,122.72], [36.22,122.72], [37.97,121.82], [37.54,118.45]];

// Map lines, lon / lat pairs
const coastLine = [[-123.5,38.76],[-123.31,38.6],[-123.19,38.51],[-123.08,38.46],[-123.02,38.31],[-122.95,38.24],[-122.81,38.09],[-122.96,38.22],[-122.96,38.0],[-122.81,38.02],[-122.7,37.91],[-122.56,37.84],[-122.5,37.81],[-122.49,37.67],[-122.48,37.56],[-122.39,37.42],[-122.39,37.24],[-122.28,37.1],[-122.14,36.99],[-121.98,36.96],[-121.87,36.95],[-121.78,36.87],[-121.76,36.73],[-121.77,36.6],[-121.9,36.62],[-121.92,36.46],[-121.87,36.3],[-121.76,36.22],[-121.62,36.15],[-121.48,36.0],[-121.39,35.91],[-121.28,35.69],[-121.12,35.6],[-121.03,35.46],[-120.87,35.44],[-120.86,35.22],[-120.77,35.17],[-120.62,35.15],[-120.63,34.89],[-120.62,34.58],[-120.48,34.46],[-120.37,34.47],[-120.01,34.47],[-119.73,34.4],[-119.53,34.36],[-119.31,34.26],[-119.17,34.13],[-118.87,34.03],[-118.67,34.05],[-118.53,34.05],[-118.49,34.0]];
const bayLine = [[-122.43,37.84],[-122.47,38.12],[-122.39,38.16],[-122.26,38.13],[-122.14,38.09],[-122.03,38.13],[-121.98,38.09],[-121.81,38.06],[-121.73,38.07],[-121.62,38.11],[-121.45,38.03],[-121.59,38.07],[-121.71,38.05],[-121.87,38.07],[-122.03,38.05],[-122.2,38.05],[-122.34,38.0],[-122.37,37.91],[-122.28,37.83],[-122.27,37.75],[-122.17,37.71],[-122.09,37.5],[-122.03,37.46],[-122.2,37.55],[-122.34,37.63],[-122.37,37.77],[-122.42,37.81],[-122.49,37.8]];
const borderLine = [[-120,39.45],[-120,38.98],[-117.56,37.18]];
const tahoeLine = [[-120,39.24],[-119.92,39.255],[-119.915,38.97],[-120.0,38.95],[-120.09,38.98],[-120.14,39.09],[-120.1,39.19],[-120,39.24]];
const smallLake = [[-119.69,37.02],[-119.6,37.05]];
const islandOne = [[-120.39,34.05],[-120.31,34.02],[-120.36,34.06],[-120.39,34.05]];
const islandTwo = [[-120.2,34.0],[-120.11,34.02],[-120.0,34.01]];
const islandThree = [[-119.89,34.06],[-119.8,34.05],[-119.63,34.03],[-119.53,34.03],[-119.54,34.0]];

const cityNames = ["Sacramento", "San  Jose", "Fresno"];
const cityLons = [-121.38, -121.92, -119.75];
const cityLats = [38.53, 37.45, 36.75];

const FONT = "'Liberation Sans', Arial, sans-serif";
const page = document.getElementById("page");

// Find the colour of a value from the levels
function classColor(value, levels, palette) {
    return palette[levels.filter(l => l > value).length];
}

function addCanvas(left, top, width, height) {
    const canvas = document.createElement("canvas");
    canvas.width = width;
    canvas.height = height;
    canvas.style.left = left + "px";
    canvas.style.top = top + "px";
    canvas.style.width = width + "px";
    canvas.style.height = height + "px";
    page.appendChild(canvas);
    return canvas;
}

function lineSet(points, width) {
    return {
        type: "scatter",
        data: points.map(p => ({ x: p[0], y: p[1] })),
        showLine: true,
        borderColor: "#000",
        borderWidth: width || 1.3,
        pointRadius: 0,
        order: 1
    };
}

// Plugin that writes the narrow lon labels, panel letter and city names, and closes the frame
function mapDecor(letter, letterLat, letterColor) {
    return {
        id: "mapDecor",
        afterDraw(chart) {
            const { ctx, chartArea: a, scales: { x, y } } = chart;
            ctx.save();
            ctx.strokeStyle = "#222";
            ctx.lineWidth = 1.6;
            ctx.strokeRect(a.left, a.top, a.right - a.left, a.bottom - a.top);

            ctx.fillStyle = "#222";
            ctx.font = "18px " + FONT;
            ctx.textAlign = "center";
            ctx.textBaseline = "alphabetic";
            lonLabels.forEach((label, i) => {
                ctx.save();
                ctx.translate(x.getPixelForValue(lonTicks[i]), a.bottom + 22);
                ctx.scale(0.8, 1);
                ctx.fillText(label, 0, 0);
                ctx.restore();
            });

            ctx.font = "300 17px Roboto, " + FONT;
            ctx.fillStyle = "#333";
            ctx.letterSpacing = "2.2px";
            ctx.textAlign = "left";
            ctx.textBaseline = "middle";
            cityNames.forEach((name, i) => {
                ctx.fillText(name, x.getPixelForValue(cityLons[i]) + 10, y.getPixelForValue(cityLats[i]) + 1);
            });
            ctx.letterSpacing = "0px";
            ctx.fillStyle = letterColor;
            ctx.font = "100 44px Roboto, " + FONT;
            ctx.textAlign = "center";
            ctx.textBaseline = "alphabetic";
            ctx.fillText(letter, x.getPixelForValue(-118.18), y.getPixelForValue(letterLat));
            ctx.restore();
        }
    };
}

function drawMap(opts) {
    const plotW = opts.right - opts.left;
    const plotH = opts.bottom - opts.top;
    // 10px of top padding plus 25px kept under the plot for the axis
    const canvas = addCanvas(opts.left - 82, opts.top - 10, plotW + 92, plotH + 35);

    const cells = [], colors = [];
    opts.rows.forEach((row, r) => {
        for (let i = 0; i + 2 < row.length; i += 2) {
            // small overlap so no white seam shows between runs
            const east = i + 4 < row.length ? row[i + 2] - 0.01 : row[i + 2];
            cells.push({ y: rowLats[r], x: [-row[i], -east] });
            colors.push(classColor(row[i + 1], opts.levels, opts.palette));
        }
    });
    const specks = [];
    opts.specks.forEach(s => s.slice(1).forEach(lon => specks.push({ y: s[0], x: [-lon, -lon + opts.speckWidth] })));

    new Chart(canvas, {
        type: "bar",
        data: {
            datasets: [
                { data: cells, indexAxis: "y", backgroundColor: colors, barThickness: 9, borderWidth: 0, grouped: false, order: 3 },
                { data: specks, indexAxis: "y", backgroundColor: opts.speckColor, barThickness: opts.speckHeight, borderWidth: 0, grouped: false, order: 2 },
                lineSet(coastLine),
                lineSet(bayLine),
                lineSet(borderLine),
                lineSet(tahoeLine),
                lineSet(smallLake, 2.6),
                lineSet(islandOne),
                lineSet(islandTwo),
                lineSet(islandThree),
                {
                    type: "scatter",
                    data: cityLons.map((lon, i) => ({ x: lon, y: cityLats[i] })),
                    backgroundColor: "#000",
                    pointRadius: 4,
                    order: 0
                }
            ]
        },
        options: {
            responsive: false,
            animation: false,
            events: [],
            layout: { padding: { top: 10, right: 10, left: 0, bottom: 0 } },
            plugins: { legend: { display: false }, tooltip: { enabled: false } },
            scales: {
                x: {
                    type: "linear", min: -123.5, max: -117.55, offset: false,
                    afterFit: s => { s.height = 25; s.paddingLeft = 0; s.paddingRight = 0; },
                    afterBuildTicks: s => { s.ticks = lonTicks.map(v => ({ value: v })); },
                    border: { display: false, dash: [1.5, 5.5] },
                    grid: { z: 1, offset: false, color: "#777", lineWidth: 1.2, tickLength: 4, tickColor: "#333", tickWidth: 1.2, tickBorderDash: [] },
                    ticks: { display: false, autoSkip: false, maxRotation: 0 }
                },
                y: {
                    type: "linear", min: 34, max: 39.45, offset: false,
                    afterFit: s => { s.width = 82; s.paddingTop = 0; s.paddingBottom = 0; },
                    afterBuildTicks: s => { s.ticks = latTicks.map(v => ({ value: v })); },
                    border: { display: false, dash: [1.5, 5] },
                    grid: { z: 1, offset: false, color: "#aaa", lineWidth: 1.2, tickLength: 7, tickColor: "#333", tickWidth: 1.2, tickBorderDash: [] },
                    ticks: { autoSkip: false, padding: 5, color: "#444", font: { family: FONT, size: 22 }, callback: (v, i) => latLabels[i] }
                }
            }
        },
        plugins: [mapDecor(opts.letter, opts.letterLat, opts.letterColor)]
    });
}

function drawColorBar(opts) {
    const levels = opts.levels;
    const step = levels[0] - levels[1];
    const last = levels[levels.length - 1];
    const barH = opts.bottom - opts.top;
    const canvas = addCanvas(opts.left - 2, opts.top - 2, 20 + 62, barH + 4);

    const bars = [], colors = [];
    levels.slice(1).forEach((lv, i) => {
        bars.push({ x: 0, y: [lv, levels[i]] });
        colors.push(opts.palette[i + 1]);
    });
    const topTip = levels[0] + step;
    const bottomTip = last - step;

    new Chart(canvas, {
        type: "bar",
        data: {
            datasets: [
                { data: bars, backgroundColor: colors, borderColor: "#111", borderWidth: 1.4, borderSkipped: false, barThickness: 20, order: 2 },
                {
                    type: "scatter",
                    data: [{ x: -1, y: levels[0] }, { x: 0, y: topTip }, { x: 1, y: levels[0] }],
                    showLine: true, pointRadius: 0, borderColor: "#444", borderWidth: 0.8,
                    backgroundColor: opts.palette[0], fill: { value: levels[0] }, order: 1
                },
                {
                    type: "scatter",
                    data: [{ x: -1, y: last }, { x: 0, y: bottomTip }, { x: 1, y: last }],
                    showLine: true, pointRadius: 0, borderColor: "#444", borderWidth: 0.8,
                    backgroundColor: opts.palette[opts.palette.length - 1], fill: { value: last }, order: 1
                }
            ]
        },
        options: {
            responsive: false,
            animation: false,
            events: [],
            layout: { padding: { top: 2, bottom: 2, left: 2, right: 0 } },
            plugins: { legend: { display: false }, tooltip: { enabled: false } },
            scales: {
                x: { type: "linear", min: -1, max: 1, display: false, offset: false, grid: { offset: false } },
                y: {
                    type: "linear", position: "right", min: bottomTip, max: topTip,
                    afterFit: s => { s.width = 60; s.paddingTop = 0; s.paddingBottom = 0; },
                    afterBuildTicks: s => { s.ticks = levels.map(v => ({ value: v })); },
                    border: { display: false },
                    grid: { display: false, drawTicks: false },
                    ticks: {
                        autoSkip: false, padding: 6, color: "#222", font: { family: FONT, size: 19 },
                        callback: v => String(v).replace("-", "\u2212")
                    }
                }
            }
        }
    });
}

drawMap({ left: 82, right: 504, top: 9, bottom: 473, rows: cellsA, levels: levelsAB, palette: paletteAB, specks: specksA, speckColor: "#2C10FF", speckWidth: 0.07, speckHeight: 6, letter: "A", letterLat: 39.04, letterColor: "#333" });
drawMap({ left: 758, right: 1180, top: 9, bottom: 473, rows: cellsB, levels: levelsAB, palette: paletteAB, specks: specksB, speckColor: "#C8107A", speckWidth: 0.09, speckHeight: 8, letter: "B", letterLat: 38.85, letterColor: "#888" });
drawMap({ left: 82, right: 504, top: 592, bottom: 1054, rows: cellsC, levels: levelsC, palette: paletteC, specks: specksC, speckColor: "#C8107A", speckWidth: 0.07, speckHeight: 6, letter: "C", letterLat: 38.86, letterColor: "#888" });
drawMap({ left: 758, right: 1180, top: 592, bottom: 1054, rows: cellsD, levels: levelsD, palette: paletteD, specks: specksD, speckColor: "#C8107A", speckWidth: 0.07, speckHeight: 6, letter: "D", letterLat: 38.86, letterColor: "#777" });
drawMap({ left: 82, right: 504, top: 1174, bottom: 1638, rows: cellsE, levels: levelsE, palette: paletteE, specks: specksE, speckColor: "#C8107A", speckWidth: 0.07, speckHeight: 6, letter: "E", letterLat: 38.84, letterColor: "#222" });

drawColorBar({ left: 558, top: 25, bottom: 456, levels: levelsAB, palette: paletteAB });
drawColorBar({ left: 1235, top: 25, bottom: 456, levels: levelsAB, palette: paletteAB });
drawColorBar({ left: 558, top: 544, bottom: 1102, levels: levelsC, palette: paletteC });
drawColorBar({ left: 1235, top: 633, bottom: 1015, levels: levelsD, palette: paletteD });
drawColorBar({ left: 558, top: 1167, bottom: 1644, levels: levelsE, palette: paletteE });
</script>
</body>
</html>
